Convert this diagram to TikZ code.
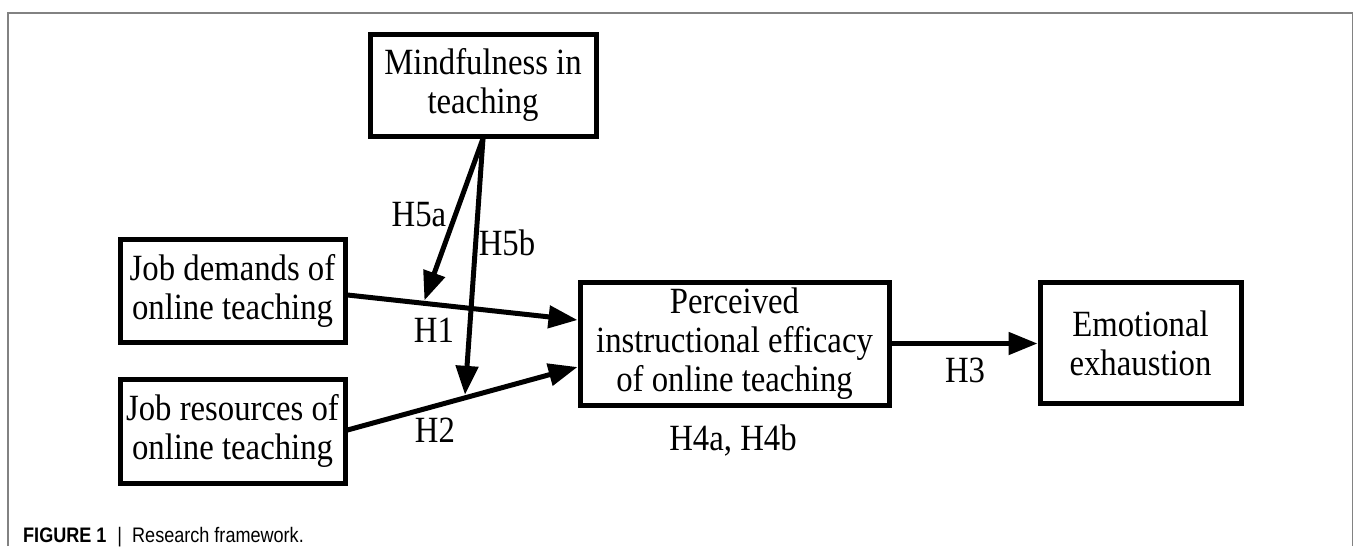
\documentclass[tikz,border=0pt]{standalone}
\usepackage{fontspec}
\setmainfont{Liberation Serif}[FakeStretch=0.885]
\newfontfamily\capfont{Liberation Sans}[FakeStretch=0.86]
\usetikzlibrary{arrows.meta,calc}
\definecolor{framegray}{RGB}{130,130,130}
\begin{document}
\begin{tikzpicture}[x=1pt,y=-1pt,
  box/.style={draw, line width=5pt, fill=white, inner sep=0pt, align=center,
              font=\fontsize{37}{39}\selectfont},
  lbl/.style={inner sep=0pt, anchor=base, font=\fontsize{37}{39}\selectfont},
  conn/.style={line width=5pt, -{Triangle[length=29pt,width=22pt]}},
]
\useasboundingbox (0,0) rectangle (1354,546);
\draw[framegray, line width=1.5pt] (8,546) -- (8,13) -- (1352.5,13) -- (1352.5,546);

\node[box, minimum width=226pt, minimum height=102pt] (mf) at (483,85) {Mindfulness in\\teaching};
\node[box, minimum width=225pt, minimum height=103pt] (jd) at (232.5,290.5) {Job demands of\\online teaching};
\node[box, minimum width=225pt, minimum height=104pt] (jr) at (232.5,431) {Job resources of\\online teaching};
\node[box, minimum width=309pt, minimum height=123pt] (pe) at (734.5,343.5) {Perceived\\instructional efficacy\\of online teaching};
\node[box, minimum width=201pt, minimum height=121pt] (ee) at (1140.5,343) {Emotional\\exhaustion};

\coordinate (jdS) at ($(jd.east)+(0,4.5)$);
\coordinate (jrS) at ($(jr.east)+(0,-1)$);
\coordinate (peA) at ($(pe.west)+(0,-23.5)$);
\coordinate (peB) at ($(pe.west)+(0,23.5)$);
\coordinate (m1) at ($(jdS)!0.33!(peA)$);
\coordinate (m2) at ($(jrS)!0.51!(peB)$);

\draw[conn] (jdS) -- (peA);
\draw[conn] (jrS) -- (peB);
\draw[conn] (pe.east) -- (pe.east -| ee.west);
\draw[conn, shorten >=3pt] (mf.south) -- (m1);
\draw[conn, shorten >=3pt] (mf.south) -- (m2);

\node[lbl] (h5a) at (419,226) {H5a};
\node[lbl] (h5b) at (507,255) {H5b};
\node[lbl] (h1) at (434,342) {H1};
\node[lbl] (h2) at (435,442) {H2};
\node[lbl] (h3) at (965,382) {H3};
\node[lbl] (h4) at (733,450) {H4a, H4b};

\node[anchor=base west, inner sep=0pt, font=\capfont\fontsize{21}{24}\selectfont] (cap) at (23,542)
  {\textbf{FIGURE 1}\hspace{11pt}|\hspace{10pt}Research framework.};
\end{tikzpicture}
\end{document}
